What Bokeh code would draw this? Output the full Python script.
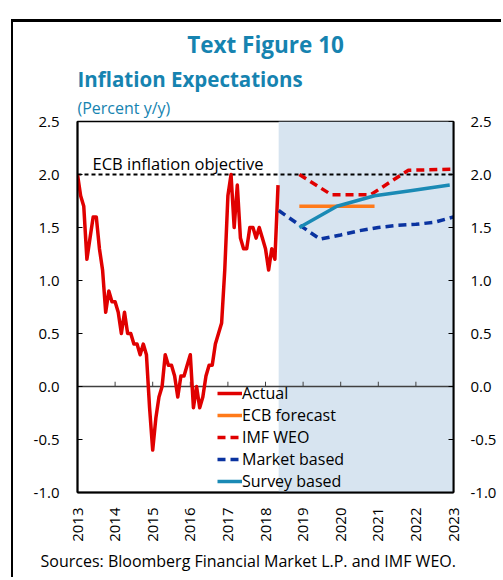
import math
from bokeh.plotting import figure
from bokeh.models import (Range1d, LinearAxis, FixedTicker, NumeralTickFormatter, Span,
                          BoxAnnotation, Label, Legend, LegendItem, Title)
from bokeh.embed import file_html
from bokeh.resources import INLINE

# ---------------- data ----------------
actual_start = 2013
actual = [2.0, 1.8, 1.7, 1.2, 1.4, 1.6, 1.6, 1.3, 1.1, 0.7, 0.9, 0.8,
          0.8, 0.7, 0.5, 0.7, 0.5, 0.5, 0.4, 0.4, 0.3, 0.4, 0.3, -0.2,
          -0.6, -0.3, -0.1, 0.0, 0.3, 0.2, 0.2, 0.1, -0.1, 0.1, 0.1, 0.2,
          0.3, -0.2, 0.0, -0.2, -0.1, 0.1, 0.2, 0.2, 0.4, 0.5, 0.6, 1.1,
          1.8, 2.0, 1.5, 1.9, 1.4, 1.3, 1.3, 1.5, 1.5, 1.4, 1.5, 1.4,
          1.3, 1.1, 1.3, 1.2, 1.9]
actual_x = [actual_start + i / 12 for i in range(len(actual))]

ecb_x = [2018.9, 2019.9, 2020.9]
ecb = [1.7, 1.7, 1.7]

imf_x = [2018.9, 2019.75, 2020.8, 2021.8, 2023.0]
imf = [2.0, 1.81, 1.81, 2.04, 2.05]

market_x = [2018.35, 2019.45, 2020.0, 2020.5, 2021.0, 2021.5, 2022.0, 2022.5, 2023.0]
market = [1.66, 1.39, 1.43, 1.47, 1.50, 1.52, 1.53, 1.55, 1.60]

survey_x = [2018.9, 2019.9, 2020.9, 2021.9, 2022.9]
survey = [1.50, 1.70, 1.80, 1.85, 1.90]

forecast_start = 2018.35
ecb_objective = 2.0
year_ticks = list(range(2013, 2024))
y_ticks = [-1.0, -0.5, 0.0, 0.5, 1.0, 1.5, 2.0, 2.5]

# ---------------- style ----------------
FONT = "Open Sans"
TITLE_COLOR = "#1683B0"
RED = "#E00000"
ORANGE = "#FF7A1A"
DARK_BLUE = "#0A33A0"
TEAL = "#1A8AB5"
SHADE = "#D7E4F0"

p = figure(width=490, height=558, output_backend="svg", toolbar_location=None,
           x_range=Range1d(2013, 2023), y_range=Range1d(-1.0, 2.5),
           min_border_left=64, min_border_right=50, min_border_top=99, min_border_bottom=88,
           title=None)
p.styles = {"margin-left": "11px", "margin-top": "19px",
            "border-left": "2px solid black", "border-top": "3px solid black"}
p.background_fill_color = "white"
p.border_fill_color = "white"
p.outline_line_color = "black"
p.outline_line_width = 1.5
p.grid.visible = False

# shading for forecast period
p.add_layout(BoxAnnotation(left=forecast_start, fill_color=SHADE, fill_alpha=1.0,
                           line_alpha=0, level="underlay"))
p.add_layout(Span(location=0, dimension="width", line_color="#404040", line_width=1.5,
                  level="underlay"))
p.add_layout(Span(location=ecb_objective, dimension="width", line_color="black",
                  line_width=2, line_dash="4 3", level="underlay"))

# ticks on zero line
p.segment(x0=year_ticks, y0=[0] * len(year_ticks), x1=year_ticks,
          y1=[0.045] * len(year_ticks), line_color="#404040", line_width=1)

r_actual = p.line(actual_x, actual, line_color=RED, line_width=3.5, line_join="round")
r_ecb = p.line(ecb_x, ecb, line_color=ORANGE, line_width=3.5)
r_imf = p.line(imf_x, imf, line_color=RED, line_width=3.5, line_dash="8 5")
r_market = p.line(market_x, market, line_color=DARK_BLUE, line_width=3.5, line_dash="8 5")
r_survey = p.line(survey_x, survey, line_color=TEAL, line_width=3.5)

# axes
def style_y(ax, standoff):
    ax.ticker = FixedTicker(ticks=y_ticks)
    ax.formatter = NumeralTickFormatter(format="0.0")
    ax.major_tick_in = 5
    ax.major_tick_out = 0
    ax.minor_tick_line_color = None
    ax.axis_line_color = "black"
    ax.axis_line_width = 2
    ax.major_tick_line_color = "black"
    ax.major_label_text_font = FONT
    ax.major_label_text_font_size = "15px"
    ax.major_label_text_color = "black"
    ax.major_label_standoff = standoff

style_y(p.yaxis[0], 18)
right_axis = LinearAxis()
style_y(right_axis, 17)
p.add_layout(right_axis, "right")

xa = p.xaxis[0]
xa.ticker = FixedTicker(ticks=year_ticks)
xa.major_tick_in = 0
xa.major_tick_out = 0
xa.minor_tick_line_color = None
xa.axis_line_color = "black"
xa.axis_line_width = 2
xa.major_label_orientation = math.pi / 2
xa.major_label_text_font = FONT
xa.major_label_text_font_size = "15px"
xa.major_label_text_color = "black"
xa.major_label_standoff = 15

# legend
legend = Legend(items=[LegendItem(label="Actual", renderers=[r_actual]),
                       LegendItem(label="ECB forecast", renderers=[r_ecb]),
                       LegendItem(label="IMF WEO", renderers=[r_imf]),
                       LegendItem(label="Market based", renderers=[r_market]),
                       LegendItem(label="Survey based", renderers=[r_survey])],
                location=(140, 0), orientation="vertical",
                background_fill_alpha=0, border_line_alpha=0,
                padding=0, margin=0, spacing=0,
                glyph_width=25, glyph_height=22, label_height=22, label_standoff=0,
                label_text_font=FONT, label_text_font_size="16px", label_text_color="black")
p.add_layout(legend)

p.add_layout(Label(x=2013.4, y=ecb_objective + 0.1, text="ECB inflation objective",
                   text_font=FONT, text_font_size="16.5px", text_color="black",
                   text_baseline="alphabetic"))

# titles (added from the frame outward)
p.add_layout(Title(text="(Percent y/y)", align="left", text_font=FONT,
                   text_font_style="normal", text_font_size="16px",
                   text_color=TITLE_COLOR, standoff=5), "above")
p.add_layout(Title(text="Inflation Expectations", align="left", text_font=FONT,
                   text_font_style="bold", text_font_size="20.5px",
                   text_color=TITLE_COLOR, standoff=-1), "above")
p.add_layout(Title(text="Text Figure 10", align="center", text_font=FONT,
                   text_font_style="bold", text_font_size="22.5px",
                   text_color=TITLE_COLOR, standoff=7), "above")
p.add_layout(Title(text="Sources: Bloomberg Financial Market L.P. and IMF WEO.",
                   align="left", offset=-37, text_font=FONT, text_font_style="normal",
                   text_font_size="16px", text_color="black", standoff=7), "below")

open("out.html", "w").write(file_html(p, INLINE))
